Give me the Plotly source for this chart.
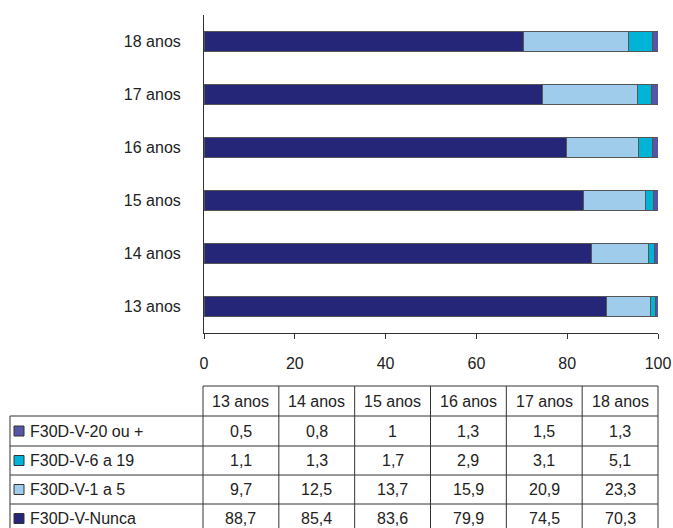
import plotly.graph_objects as go

W, H = 673, 528

ages = ["13 anos", "14 anos", "15 anos", "16 anos", "17 anos", "18 anos"]
series_names = ["F30D-V-Nunca", "F30D-V-1 a 5", "F30D-V-6 a 19", "F30D-V-20 ou +"]
nunca = [88.7, 85.4, 83.6, 79.9, 74.5, 70.3]
um_a_cinco = [9.7, 12.5, 13.7, 15.9, 20.9, 23.3]
seis_a_19 = [1.1, 1.3, 1.7, 2.9, 3.1, 5.1]
vinte_ou_mais = [0.5, 0.8, 1, 1.3, 1.5, 1.3]
x_ticks = [0, 20, 40, 60, 80, 100]

series_values = [nunca, um_a_cinco, seis_a_19, vinte_ou_mais]
colors = ["#262679", "#A0CCEC", "#00B4D8", "#5656A6"]

FONT = "Liberation Sans, Arial, Helvetica, sans-serif"
FS = 16
TXT = "#222222"
GRID = "#333333"


def px(x):
    return x / W


def py(y):
    return 1 - y / H


def fmt(v):
    s = ("%g" % v)
    return s.replace(".", ",")


fig = go.Figure()
for name, vals, col in zip(series_names, series_values, colors):
    fig.add_trace(go.Bar(
        y=ages, x=vals, name=name, orientation="h",
        marker=dict(color=col, line=dict(color="#555555", width=1)),
        width=0.38, hoverinfo="x+name",
    ))

# plot area in pixels
x0, x1 = 204, 658
y_top, y_bot = 15, 333

fig.update_layout(
    width=W, height=H,
    margin=dict(l=0, r=0, t=0, b=0, pad=0),
    paper_bgcolor="white", plot_bgcolor="white",
    barmode="stack", showlegend=False,
    font=dict(family=FONT, size=FS, color=TXT),
    xaxis=dict(
        domain=[px(x0), px(x1)], range=[0, 100],
        tickvals=x_ticks, ticktext=[str(t) for t in x_ticks],
        ticks="outside", ticklen=5, tickcolor=GRID, tickwidth=1,
        showline=True, linecolor=GRID, linewidth=1,
        showgrid=False, zeroline=False, ticklabelstandoff=11,
        anchor="y", fixedrange=True, automargin=False,
    ),
    yaxis=dict(
        domain=[py(y_bot), py(y_top)],
        categoryorder="array", categoryarray=ages, range=[-0.5, 5.5],
        showline=True, linecolor=GRID, linewidth=1,
        ticks="", showgrid=False, zeroline=False,
        ticklabelstandoff=19, anchor="x", fixedrange=True, automargin=False,
    ),
)

# data table beneath the chart
col_left = 203
col_right = 658
col_w = (col_right - col_left) / len(ages)
col_edges = [col_left + i * col_w for i in range(len(ages) + 1)]
row_edges = [386, 416, 446, 475, 504, 534]
legend_left = 10

shapes = []


def hline(xa, xb, y):
    shapes.append(dict(type="line", xref="paper", yref="paper",
                       x0=px(xa), x1=px(xb), y0=py(y), y1=py(y),
                       line=dict(color=GRID, width=1)))


def vline(x, ya, yb):
    shapes.append(dict(type="line", xref="paper", yref="paper",
                       x0=px(x), x1=px(x), y0=py(ya), y1=py(yb),
                       line=dict(color=GRID, width=1)))


hline(col_left, col_right, row_edges[0])
for y in row_edges[1:]:
    hline(legend_left, col_right, y)
for x in col_edges:
    vline(x, row_edges[0], row_edges[-1])
vline(legend_left, row_edges[1], row_edges[-1])

annotations = []
for i, age in enumerate(ages):
    cx = (col_edges[i] + col_edges[i + 1]) / 2
    annotations.append(dict(x=px(cx), y=py((row_edges[0] + row_edges[1]) / 2),
                            xref="paper", yref="paper", text=age, showarrow=False,
                            xanchor="center", yanchor="middle",
                            font=dict(family=FONT, size=FS, color=TXT)))

# rows listed top to bottom: 20 ou +, 6 a 19, 1 a 5, Nunca
table_rows = list(zip(series_names, series_values, colors))[::-1]
for r, (name, vals, col) in enumerate(table_rows):
    ya, yb = row_edges[r + 1], row_edges[r + 2]
    if r == len(table_rows) - 1:
        yb = row_edges[r + 1] + 29
    cy = (ya + yb) / 2
    shapes.append(dict(type="rect", xref="paper", yref="paper",
                       x0=px(14), x1=px(24), y0=py(cy + 5), y1=py(cy - 5),
                       fillcolor=col, line=dict(color="#333333", width=1)))
    annotations.append(dict(x=px(28), y=py(cy), xref="paper", yref="paper",
                            text=name, showarrow=False, xanchor="left", yanchor="middle",
                            font=dict(family=FONT, size=FS, color=TXT)))
    for i, v in enumerate(vals):
        cx = (col_edges[i] + col_edges[i + 1]) / 2
        annotations.append(dict(x=px(cx), y=py(cy), xref="paper", yref="paper",
                                text=fmt(v), showarrow=False,
                                xanchor="center", yanchor="middle",
                                font=dict(family=FONT, size=FS, color=TXT)))

fig.update_layout(shapes=shapes, annotations=annotations)

fig.write_html("out.html")
